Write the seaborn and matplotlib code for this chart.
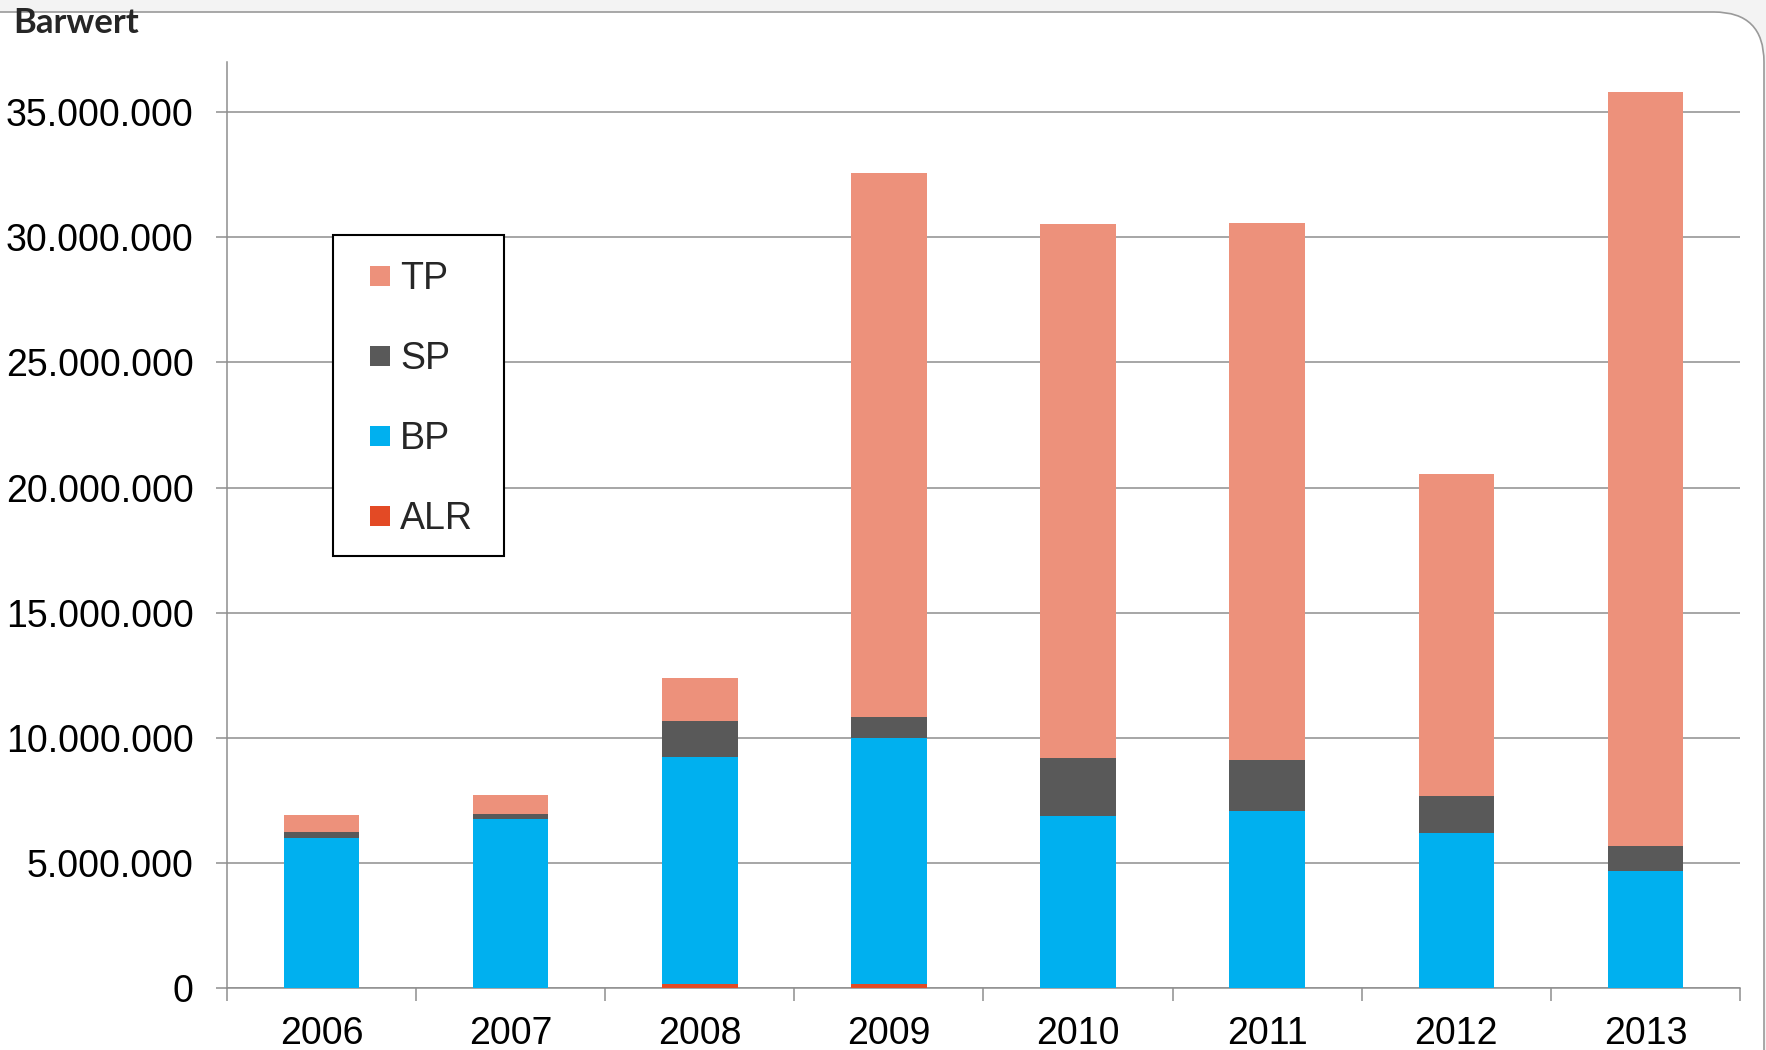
import numpy as np
import pandas as pd
import seaborn as sns
import matplotlib
matplotlib.use("Agg")
import matplotlib.pyplot as plt
from matplotlib.lines import Line2D
from matplotlib.patches import FancyBboxPatch, Rectangle
from matplotlib.ticker import FuncFormatter, FixedLocator

# values in Mio. (Barwert)
years = ["2006", "2007", "2008", "2009", "2010", "2011", "2012", "2013"]
alr = [0.0, 0.0, 0.17, 0.17, 0.0, 0.0, 0.0, 0.0]
bp = [5.99, 6.76, 9.07, 9.84, 6.87, 7.07, 6.22, 4.69]
sp = [0.24, 0.19, 1.43, 0.83, 2.32, 2.05, 1.45, 1.00]
tp = [0.69, 0.75, 1.71, 21.72, 21.35, 21.46, 12.88, 30.11]

series = ["ALR", "BP", "SP", "TP"]
colors = {"ALR": "#E34A25", "BP": "#00B0EF", "SP": "#595959", "TP": "#ED917B"}
grid_c = "#8e8e8e"

df = pd.DataFrame({"year": years, "ALR": alr, "BP": bp, "SP": sp, "TP": tp})
cum = df[series].cumsum(axis=1) * 1e6
cum["year"] = years

sns.set_style("white")
plt.rcParams["font.family"] = ["Liberation Sans", "DejaVu Sans"]

fig = plt.figure(figsize=(17.66, 10.5), dpi=100)
fig.patch.set_facecolor("#f3f3f3")
# white card with rounded corner at the top right
card = FancyBboxPatch((-1.0, -1.0), 17.64 + 1.0, 10.38 + 1.0,
                      boxstyle="round,pad=0,rounding_size=0.5",
                      transform=fig.dpi_scale_trans, facecolor="white",
                      edgecolor="#9a9a9a", linewidth=1.2, zorder=-10)
fig.patches.append(card)

ax = fig.add_axes([0.1285, 0.0588, 0.9853 - 0.1285, 0.941 - 0.0588])
ax.set_facecolor("none")

# stacked look: draw cumulative totals from the top segment down
for s in series[::-1]:
    sns.barplot(data=cum, x="year", y=s, color=colors[s], width=0.4,
                linewidth=0, saturation=1, ax=ax, zorder=3)

ax.set_xlim(-0.5, 7.5)
ax.set_ylim(0, 37e6)
ax.set_yticks(np.arange(0, 35e6 + 1, 5e6))
ax.yaxis.set_major_formatter(FuncFormatter(lambda v, p: f"{v:,.0f}".replace(",", ".")))
ax.yaxis.grid(True, color=grid_c, linewidth=1.1, zorder=0)
ax.set_axisbelow(True)
ax.set_xlabel("")
ax.set_ylabel("")

for side in ["top", "right"]:
    ax.spines[side].set_visible(False)
for side in ["left", "bottom"]:
    ax.spines[side].set_color(grid_c)
    ax.spines[side].set_linewidth(1.1)

ax.tick_params(axis="y", length=8, width=1.1, color=grid_c, pad=16,
               labelsize=27, labelcolor="black", left=True)
ax.tick_params(axis="x", which="major", length=0, pad=20, labelsize=27,
               labelcolor="black")
ax.xaxis.set_minor_locator(FixedLocator(np.arange(-0.5, 8, 1.0)))
ax.tick_params(axis="x", which="minor", length=9, width=1.1, color=grid_c,
               bottom=True)

# legend box drawn separately, entries placed without frame
ax.add_patch(Rectangle((0.0704, 0.4666), 0.1124, 0.3464, transform=ax.transAxes,
                       facecolor="white", edgecolor="black", linewidth=1.5,
                       zorder=5))
handles = [Line2D([], [], marker="s", linestyle="none", markersize=14,
                  markerfacecolor=colors[s], markeredgewidth=0)
           for s in ["TP", "SP", "BP", "ALR"]]
leg = ax.legend(handles, ["TP", "SP", "BP", "ALR"], loc="upper left",
                bbox_to_anchor=(0.0935, 0.785), fontsize=27, frameon=False,
                handlelength=0.6, handletextpad=0.25, labelspacing=1.17,
                borderpad=0, borderaxespad=0)
leg.set_zorder(6)

fig.text(13 / 1766, 1 - 33 / 1050, "Barwert", family=["Lato", "DejaVu Sans"],
         fontweight="bold", fontsize=25, va="baseline", ha="left")

fig.savefig("out.png", dpi=100, facecolor=fig.get_facecolor())
